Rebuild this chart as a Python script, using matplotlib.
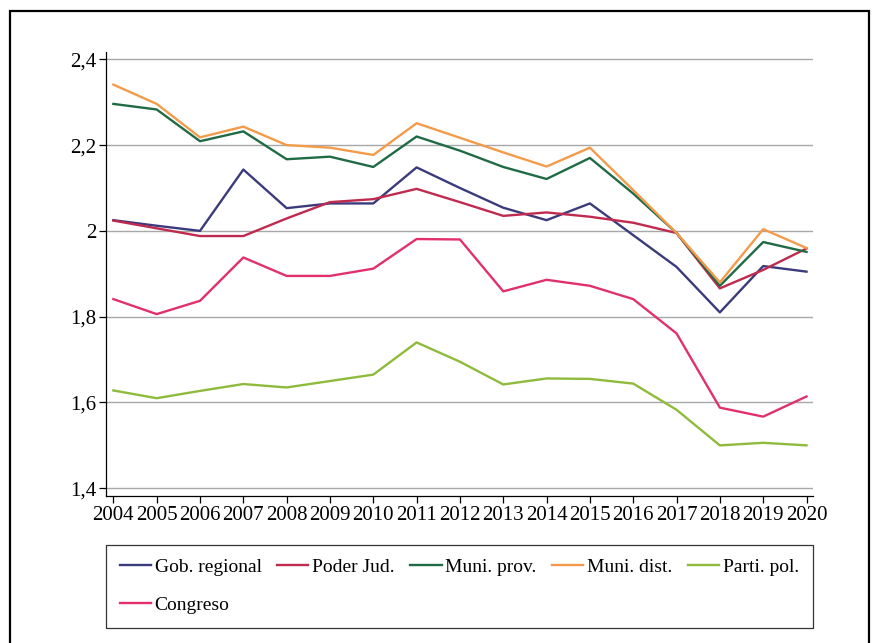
import matplotlib
matplotlib.use("Agg")
import matplotlib.pyplot as plt
from matplotlib.patches import Rectangle

plt.rcParams['font.family'] = ['Liberation Serif', 'DejaVu Serif']

years = list(range(2004, 2021))
gob_regional = [2.025, 2.012, 2.000, 2.143, 2.053, 2.064, 2.064, 2.148, 2.100, 2.054,
                2.025, 2.064, 1.990, 1.916, 1.810, 1.918, 1.905]
poder_jud = [2.024, 2.006, 1.988, 1.988, 2.029, 2.067, 2.074, 2.098, 2.067, 2.035,
             2.043, 2.033, 2.019, 1.995, 1.866, 1.909, 1.959]
muni_prov = [2.296, 2.283, 2.209, 2.232, 2.167, 2.173, 2.149, 2.220, 2.187, 2.149,
             2.121, 2.170, 2.087, 1.995, 1.872, 1.974, 1.951]
muni_dist = [2.341, 2.296, 2.218, 2.243, 2.200, 2.194, 2.177, 2.251, 2.217, 2.183,
             2.150, 2.194, 2.095, 1.995, 1.880, 2.004, 1.960]
parti_pol = [1.628, 1.610, 1.627, 1.643, 1.635, 1.650, 1.665, 1.740, 1.695, 1.642,
             1.656, 1.655, 1.644, 1.583, 1.500, 1.506, 1.500]
congreso = [1.841, 1.806, 1.837, 1.938, 1.895, 1.895, 1.912, 1.981, 1.980, 1.859,
            1.886, 1.872, 1.841, 1.761, 1.588, 1.567, 1.614]

yticks = [1.4, 1.6, 1.8, 2.0, 2.2, 2.4]
ytick_labels = ["1,4", "1,6", "1,8", "2", "2,2", "2,4"]

fig = plt.figure(figsize=(8.76, 6.43), dpi=100)
W, H = 876, 643
# outer frame
fig.patches.append(Rectangle((10/W, -0.05), 859/W, 1.05 - 11/H, transform=fig.transFigure,
                             fill=False, edgecolor='black', lw=1.6))
ax = fig.add_axes([106/W, 1-496/H, (813-106)/W, (496-52)/H])

lw = 1.7
l1, = ax.plot(years, gob_regional, color='#3b3b7c', lw=lw, label='Gob. regional')
l2, = ax.plot(years, poder_jud, color='#c02a4e', lw=lw, label='Poder Jud.')
l3, = ax.plot(years, muni_prov, color='#1f6b45', lw=lw, label='Muni. prov.')
l4, = ax.plot(years, muni_dist, color='#f39b4a', lw=lw, label='Muni. dist.')
l5, = ax.plot(years, parti_pol, color='#8fbb3c', lw=lw, label='Parti. pol.')
l6, = ax.plot(years, congreso, color='#e2306c', lw=lw, label='Congreso')

ax.set_xlim(2003.83, 2020.15)
ax.set_ylim(1.382, 2.417)
ax.set_yticks(yticks)
ax.set_yticklabels(ytick_labels)
ax.set_xticks(years)
ax.set_xticklabels([str(y) for y in years])
ax.grid(axis='y', color='#a8a8a8', lw=1.0)
ax.set_axisbelow(True)
for s in ['top', 'right']:
    ax.spines[s].set_visible(False)
ax.spines['left'].set_linewidth(0.9)
ax.spines['bottom'].set_linewidth(0.9)
ax.tick_params(axis='both', direction='out', length=5, width=0.9, labelsize=15, pad=2)

handles = [l1, l6, l2, l3, l4, l5]
leg = ax.legend(handles=handles, labels=[h.get_label() for h in handles],
                ncol=5, loc='upper left', bbox_to_anchor=(0, -0.295, 1, 0.185),
                mode='expand', fontsize=14, frameon=True, fancybox=False,
                edgecolor='black', handlelength=1.6, handletextpad=0.2,
                columnspacing=0.3, borderaxespad=0, borderpad=0.7, labelspacing=1.05)
leg.get_frame().set_linewidth(0.9)

fig.savefig("out.png", dpi=100)
